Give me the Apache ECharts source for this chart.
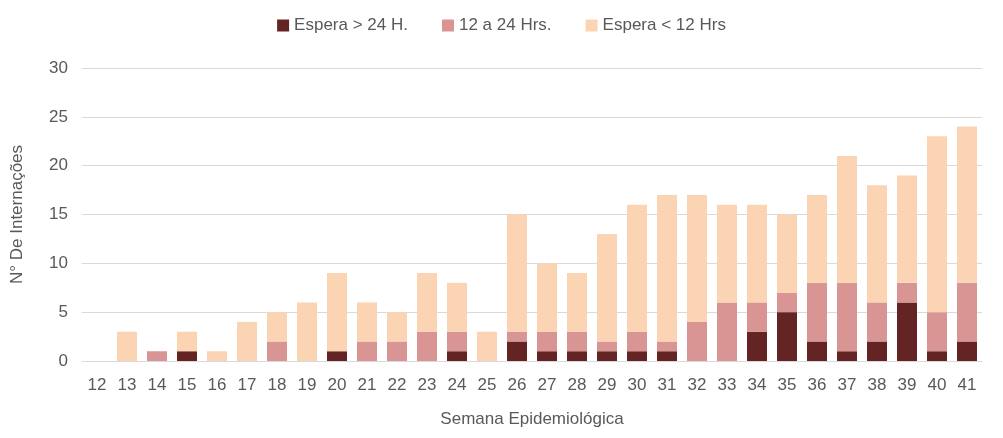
<!DOCTYPE html>
<html>
<head>
<meta charset="utf-8">
<script src="https://cdn.jsdelivr.net/npm/echarts@6/dist/echarts.min.js"></script>
<style>
  html, body { margin: 0; padding: 0; background: #fff; }
  #chart { width: 1003px; height: 438px; }
</style>
</head>
<body>
<div id="chart"></div>
<script>
// semanas epidemiológicas
const semanas = ['12','13','14','15','16','17','18','19','20','21','22','23','24','25','26',
  '27','28','29','30','31','32','33','34','35','36','37','38','39','40','41'];
// espera > 24 h
const esperaMais24 = [0,0,0,1,0,0,0,0,1,0,0,0,1,0,2,1,1,1,1,1,0,0,3,5,2,1,2,6,1,2];
// 12 a 24 h
const espera12a24 = [0,0,1,0,0,0,2,0,0,2,2,3,2,0,1,2,2,1,2,1,4,6,3,2,6,7,4,2,4,6];
// espera < 12 h
const esperaMenos12 = [0,3,0,2,1,4,3,6,8,4,3,6,5,3,12,7,6,11,13,15,13,10,10,8,9,13,12,11,18,16];

const fonte = 'Liberation Sans';
const corTexto = '#595959';

const chart = echarts.init(document.getElementById('chart'));

const barra = (nome, dados, cor) => ({
  name: nome,
  type: 'bar',
  stack: 'total',
  data: dados,
  barWidth: 20,
  itemStyle: { color: cor },
  emphasis: { disabled: true }
});

chart.setOption({
  animation: false,
  textStyle: { fontFamily: fonte, color: corTexto },
  legend: {
    top: 12,
    left: 'center',
    itemWidth: 12,
    itemHeight: 12,
    itemGap: 34,
    icon: 'rect',
    textStyle: { fontFamily: fonte, fontSize: 17, color: corTexto }
  },
  grid: { left: 82, right: 21, top: 68, bottom: 77 },
  xAxis: {
    type: 'category',
    data: semanas,
    name: 'Semana Epidemiológica',
    nameLocation: 'middle',
    nameGap: 50,
    nameTextStyle: { fontFamily: fonte, fontSize: 17, color: corTexto },
    axisLine: { show: true, lineStyle: { color: '#d9d9d9' } },
    axisTick: { show: false },
    axisLabel: { fontFamily: fonte, fontSize: 17, color: corTexto, margin: 16, interval: 0 }
  },
  yAxis: {
    type: 'value',
    min: 0,
    max: 30,
    interval: 5,
    name: 'N° De Internações',
    nameLocation: 'middle',
    nameGap: 56,
    nameTextStyle: { fontFamily: fonte, fontSize: 17, color: corTexto },
    axisLine: { show: false },
    axisTick: { show: false },
    axisLabel: { fontFamily: fonte, fontSize: 17, color: corTexto, margin: 14 },
    splitLine: { lineStyle: { color: '#d9d9d9', width: 1 } }
  },
  series: [
    barra('Espera > 24 H.', esperaMais24, '#632423'),
    barra('12 a 24 Hrs.', espera12a24, '#D99594'),
    barra('Espera < 12 Hrs', esperaMenos12, '#FBD4B4')
  ]
});
</script>
</body>
</html>
